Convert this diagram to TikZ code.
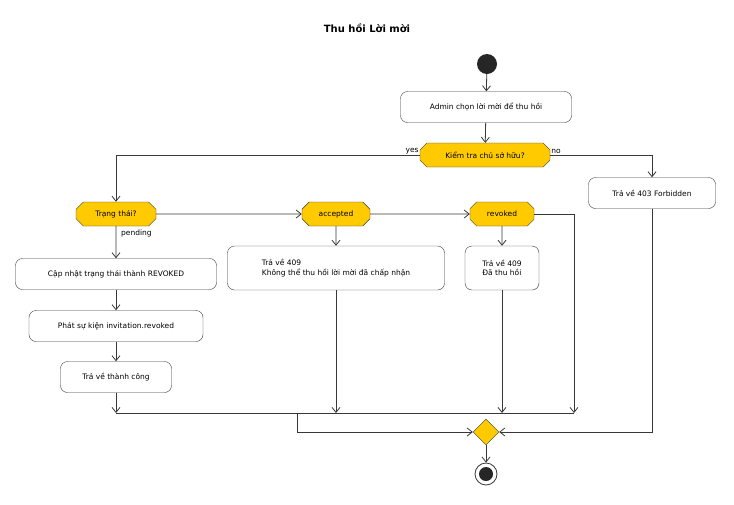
\documentclass[tikz,border=0pt]{standalone}
\usepackage{fontspec}
\setmainfont{DejaVu Sans}
\usetikzlibrary{shapes.geometric,shapes.misc,arrows.meta,calc}
\definecolor{ln}{HTML}{383838}
\definecolor{yl}{HTML}{FFCA00}
\begin{document}
\begin{tikzpicture}[x=1pt,y=-1pt,font=\fontsize{7.5}{9.5}\selectfont,
 act/.style={draw=ln,fill=white,rounded corners=7pt,minimum height=31pt,inner xsep=9pt,align=left},
 dec/.style={draw=ln,fill=yl,chamfered rectangle,chamfered rectangle angle=45,chamfered rectangle xsep=12pt,minimum height=24pt,inner xsep=2pt,inner ysep=0pt},
 ar/.style={draw=ln,-{Straight Barb[length=5pt,width=8pt]},line width=0.8pt},
 ln/.style={draw=ln,line width=0.8pt}]
\useasboundingbox (0,0) rectangle (734,504);
\node[font=\bfseries\fontsize{10}{12}\selectfont] (title) at (367,28) {Thu hồi Lời mời};
\node[circle,fill=black!85,minimum size=20pt,inner sep=0] (start) at (487,64) {};
\node[act,minimum width=171pt] (a1) at (486,107) {Admin chọn lời mời để thu hồi};
\node[dec,minimum width=130pt] (d1) at (485,155) {Kiểm tra chủ sở hữu?};
\node[act,minimum width=127pt] (f403) at (652,193) {Trả về 403 Forbidden};
\node[dec,minimum width=80pt] (d2) at (116,214) {Trạng thái?};
\node[dec,minimum width=68pt] (d3) at (336,214) {accepted};
\node[dec,minimum width=64pt] (d4) at (502,214) {revoked};
\node[act,minimum width=201pt] (p1) at (116,274) {Cập nhật trạng thái thành REVOKED};
\node[act,minimum width=174pt] (p2) at (116,326) {Phát sự kiện invitation.revoked};
\node[act,minimum width=111pt] (p3) at (116,377) {Trả về thành công};
\node[act,minimum width=217pt,minimum height=44pt] (acc) at (336,268) {Trả về 409\\Không thể thu hồi lời mời đã chấp nhận};
\node[act,minimum width=74pt,minimum height=44pt] (rev) at (502,268) {Trả về 409\\Đã thu hồi};
\node[diamond,draw=ln,fill=yl,minimum size=26pt,inner sep=0] (m) at (486,432) {};
\node[circle,draw=ln,line width=0.8pt,fill=white,minimum size=22pt,inner sep=0] (end) at (486,474) {};
\node[circle,fill=black!85,minimum size=14pt,inner sep=0] at (end) {};
\coordinate (j1) at (116,413);
\coordinate (j2) at (574,413);
\coordinate (j3) at (297,413);
\path[ar] (start) -- (a1);
\path[ar] (a1) -- (d1);
\path[ar] (d1.west) -| (d2.north);
\node[anchor=south east,inner sep=1pt] at (d1.west) {yes};
\path[ar] (d1.east) -| (f403.north);
\node[anchor=south west,inner sep=1pt] at (d1.east) {no};
\path[ar] (d2) -- (d3);
\path[ar] (d3) -- (d4);
\path[ar] (d2) -- (p1);
\node[anchor=north west,inner sep=1pt] at ($(d2.south)+(4,2)$) {pending};
\path[ar] (p1) -- (p2);
\path[ar] (p2) -- (p3);
\path[ar] (p3) -- (j1);
\path[ar] (d3) -- (acc);
\path[ar] (d4) -- (rev);
\path[ar] (acc) -- (acc.south |- j1);
\path[ar] (rev) -- (rev.south |- j1);
\path[ar] (d4.east) -| (j2);
\path[ln] (j1) -- (j2);
\path[ar] (j3) |- (m.west);
\path[ar] (f403) |- (m.east);
\path[ar] (m) -- (end);
\end{tikzpicture}
\end{document}
